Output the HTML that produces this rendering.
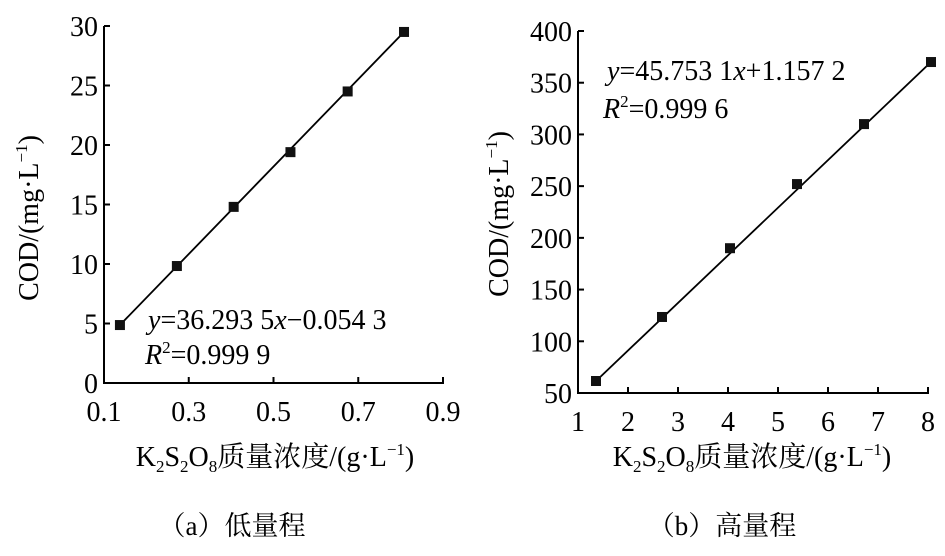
<!DOCTYPE html>
<html><head><meta charset="utf-8"><style>
body{margin:0;background:#fff}
svg{display:block;font-family:"Liberation Serif","Times New Roman","Noto Serif CJK SC",serif}
text{font-family:"Liberation Serif","Times New Roman","Noto Serif CJK SC",serif}
</style></head><body>
<svg id="c" width="945" height="556"></svg>
<script>
// Panel (a)
const aX=[0.1376,0.272,0.406,0.540,0.675,0.808];
const aY=[4.87,9.83,14.8,19.4,24.5,29.5];
const aXTicks=[0.1,0.3,0.5,0.7,0.9];
const aYTicks=[0,5,10,15,20,25,30];
// Panel (b)
const bX=[1.36,2.68,4.04,5.38,6.72,8.06];
const bY=[61.6,123.5,190,252,310,370];
const bXTicks=[1,2,3,4,5,6,7,8];
const bYTicks=[50,100,150,200,250,300,350,400];

const NS="http://www.w3.org/2000/svg";
const svg=document.getElementById('c');
function mk(t,at,p,txt){const e=document.createElementNS(NS,t);for(const k in at)e.setAttribute(k,at[k]);if(txt!=null)e.textContent=txt;(p||svg).appendChild(e);return e;}

function panel(cfg){
  const g=mk('g',{});
  
  
  const sx=v=>cfg.x0+(v-cfg.xmin)/(cfg.xmax-cfg.xmin)*(cfg.x1-cfg.x0);
  const sy=v=>cfg.y0-(v-cfg.ymin)/(cfg.ymax-cfg.ymin)*(cfg.y0-cfg.y1);
  const ax=mk('path',{d:`M${cfg.x0},${cfg.y1}V${cfg.y0}H${cfg.xend}`,fill:'none',stroke:'#000','stroke-width':2},g);
  
  cfg.yt.forEach(v=>{
    const y=sy(v);
    const t=mk('line',{x1:cfg.x0,x2:cfg.x0+6,y1:y,y2:y,stroke:'#000','stroke-width':2},g);
    
    const l=mk('text',{x:cfg.x0-6,y:y+10,'text-anchor':'end','font-size':28},g,String(v));
    
  });
  cfg.xt.forEach(v=>{
    const x=sx(v);
    const t=mk('line',{x1:x,x2:x,y1:cfg.y0,y2:cfg.y0-6,stroke:'#000','stroke-width':2},g);
    
    const l=mk('text',{x:x,y:cfg.y0+38,'text-anchor':'middle','font-size':28},g,String(v));
    
  });
  const n=cfg.xs.length;
  const ln=mk('line',{x1:sx(cfg.xs[0]),y1:sy(cfg.ys[0]),x2:sx(cfg.xs[n-1]),y2:sy(cfg.ys[n-1]),stroke:'#000','stroke-width':1.8},g);
  
  for(let i=0;i<n;i++){
    const r=mk('rect',{x:sx(cfg.xs[i])-5,y:sy(cfg.ys[i])-5,width:10,height:10,fill:'#111'},g);
    
  }
}
panel({name:'panel-a',x0:104,x1:443,xend:444,y0:383,y1:26,xmin:0.1,xmax:0.9,ymin:0,ymax:30,xt:aXTicks,yt:aYTicks,xs:aX,ys:aY});
panel({name:'panel-b',x0:578,x1:928,xend:929,y0:393,y1:31,xmin:1,xmax:8,ymin:50,ymax:400,xt:bXTicks,yt:bYTicks,xs:bX,ys:bY});
</script>
<svg width="945" height="556" style="position:absolute;left:0;top:0">
<text x="148" y="329" font-size="28"><tspan font-style="italic">y</tspan>=36.293 5<tspan font-style="italic">x</tspan>−0.054 3</text>
<text x="145" y="364" font-size="28"><tspan font-style="italic">R</tspan><tspan font-size="17" dy="-11">2</tspan><tspan dy="11">=0.999 9</tspan></text>
<text x="607" y="80" font-size="28"><tspan font-style="italic">y</tspan>=45.753 1<tspan font-style="italic">x</tspan>+1.157 2</text>
<text x="603" y="118" font-size="28"><tspan font-style="italic">R</tspan><tspan font-size="17" dy="-11">2</tspan><tspan dy="11">=0.999 6</tspan></text>
<text transform="translate(38,218) rotate(-90)" text-anchor="middle" font-size="28">COD/(mg·L<tspan font-size="17" dy="-11">−1</tspan><tspan dy="11">)</tspan></text>
<text transform="translate(508,214) rotate(-90)" text-anchor="middle" font-size="28">COD/(mg·L<tspan font-size="17" dy="-11">−1</tspan><tspan dy="11">)</tspan></text>
<text x="275" y="466" text-anchor="middle" font-size="28">K<tspan font-size="17" dy="6">2</tspan><tspan dy="-6">S</tspan><tspan font-size="17" dy="6">2</tspan><tspan dy="-6">O</tspan><tspan font-size="17" dy="6">8</tspan><tspan dy="-6">质量浓度/(g·L</tspan><tspan font-size="17" dy="-11">−1</tspan><tspan dy="11">)</tspan></text>
<text x="752" y="466" text-anchor="middle" font-size="28">K<tspan font-size="17" dy="6">2</tspan><tspan dy="-6">S</tspan><tspan font-size="17" dy="6">2</tspan><tspan dy="-6">O</tspan><tspan font-size="17" dy="6">8</tspan><tspan dy="-6">质量浓度/(g·L</tspan><tspan font-size="17" dy="-11">−1</tspan><tspan dy="11">)</tspan></text>
<text x="232" y="535" text-anchor="middle" font-size="27">（a）低量程</text>
<text x="722" y="535" text-anchor="middle" font-size="27">（b）高量程</text>
</svg>
</body></html>
